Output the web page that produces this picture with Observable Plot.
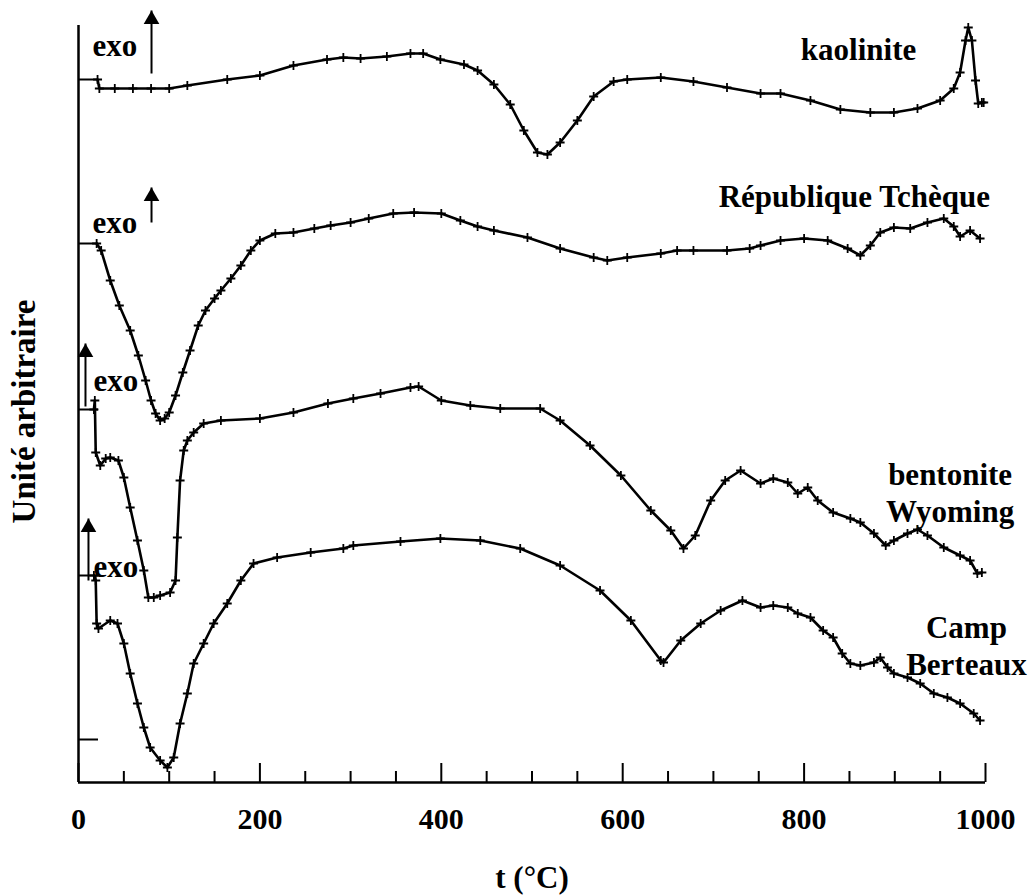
<!DOCTYPE html>
<html><head><meta charset="utf-8">
<script src="https://cdn.jsdelivr.net/npm/d3@7"></script>
<script src="https://cdn.jsdelivr.net/npm/@observablehq/plot@0.6"></script>
<style>body{margin:0;background:#fff} svg{display:block}</style>
</head><body><div id="chart"></div>
<script>
// Temperatures (°C) and signal (arbitrary units)
const tKaolinite = [21,23,40,60,80,100,120,164,200,237,274,292,311,340,366,380,399,425,440,458,476,491,506,517,531,550,568,590,605,642,678,715,752,774,807,840,873,899,925,950,965,972,978,981,985,989,992,996,998];
const vKaolinite = [703,694,694,694,694,694,697,703,707,717,723,725,724,726,729,729,723,718,712,698,678,652,630,628,640,662,686,701,703,705,701,695,689,689,682,673,670,670,674,682,694,710,742,755,742,702,679,680,680];

const tTcheque = [20,25,35,45,57,66,74,80,85,90,95,100,107,115,123,132,140,150,157,168,179,190,200,217,237,260,278,300,320,347,370,400,421,440,458,495,531,568,583,605,642,660,678,715,740,752,774,800,826,848,862,873,884,899,917,936,954,965,972,983,994];
const vTcheque = [539,532,502,477,452,427,402,382,369,362,364,370,387,410,432,457,472,484,492,504,517,532,542,549,550,554,557,560,564,569,570,569,562,556,552,545,534,525,522,525,529,532,532,532,534,537,542,544,542,534,527,537,550,555,554,560,564,556,546,552,544];

const tBentonite = [17,18,19,24,30,35,44,50,57,65,72,77,83,90,101,107,109,112,116,120,127,138,157,200,237,275,303,333,366,375,400,432,465,509,531,564,598,631,653,667,680,697,713,730,752,766,782,793,804,815,832,851,862,877,890,899,914,925,936,954,972,983,991,996];
const vBentonite = [373,382,330,317,324,325,322,305,275,242,212,185,185,187,190,202,245,302,332,342,350,359,362,364,370,379,384,389,395,396,382,377,374,374,362,337,307,272,252,234,247,282,302,312,299,304,300,289,295,282,270,264,260,249,237,242,249,253,247,235,227,222,209,210];

const tCamp = [17,19,20,22,35,43,50,57,65,72,79,90,98,105,112,120,127,138,149,164,179,193,219,256,292,303,355,399,443,487,531,575,609,642,645,664,686,708,732,752,766,782,793,807,821,832,842,851,862,877,884,892,899,914,928,943,958,972,987,994];
const vCamp = [207,202,159,154,162,159,139,109,79,55,35,22,15,25,59,89,119,139,159,179,202,219,225,230,234,237,241,244,242,234,217,192,162,122,120,142,159,172,182,175,177,175,169,165,152,145,129,119,117,120,125,115,109,105,99,89,85,79,69,62];

const seriesNames = ["kaolinite", "République Tchèque", "bentonite Wyoming", "Camp Berteaux"];
const seriesLabels = ["kaolinite", "République Tchèque", "bentonite\nWyoming", "Camp\nBerteaux"];
const labelT = [860, 1005, 961, 979];
const labelV = [734, 585, 291, 138];
const labelAnchor = ["middle", "end", "middle", "middle"];

const baselines = [703, 539, 373, 207, 43];
const xMajorTicks = [0, 200, 400, 600, 800, 1000];
const xMinorTicks = [50, 100, 150, 250, 300, 350, 450, 500, 550, 650, 700, 750, 850, 900, 950];

const exoT = [15.5, 15.5, 16.5, 16.5];
const exoV = [736, 559, 401, 215];
const arrowT = [80.5, 80.5, 7.7, 11];
const arrowFromV = [709, 560, 376, 202];
const arrowToV = [772, 595, 439, 264];

const xTitle = "t (°C)";
const yTitle = "Unité arbitraire";

const allT = [tKaolinite, tTcheque, tBentonite, tCamp];
const allV = [vKaolinite, vTcheque, vBentonite, vCamp];
const rows = [];
seriesNames.forEach((s, i) => allT[i].forEach((t, j) => rows.push({series: s, t, v: allV[i][j]})));
const labels = seriesLabels.map((text, i) => ({text, t: labelT[i], v: labelV[i], anchor: labelAnchor[i]}));
const exos = exoT.map((t, i) => ({t, v: exoV[i]}));
const arrows = arrowT.map((t, i) => ({t, v1: arrowFromV[i], v2: arrowToV[i]}));

const font = "'Liberation Serif', 'Times New Roman', serif";
const chart = Plot.plot({
  width: 1032, height: 895,
  marginLeft: 78, marginRight: 47, marginTop: 25, marginBottom: 113,
  style: {fontFamily: font, fontWeight: "bold", color: "#000", background: "#fff", overflow: "visible"},
  x: {domain: [0, 1000]},
  y: {domain: [0, 757]},
  marks: [
    Plot.axisX({ticks: xMinorTicks, tickSize: -11, tickFormat: () => "", strokeWidth: 2, label: null}),
    Plot.axisX({ticks: xMajorTicks, tickSize: -19, tickPadding: 44, tickFormat: d => String(d), fontSize: 30, strokeWidth: 2, label: null}),
    Plot.axisY({ticks: baselines, tickSize: -20, tickFormat: () => "", strokeWidth: 2, label: null}),
    Plot.ruleX([0], {strokeWidth: 2.5}),
    Plot.ruleY([0], {strokeWidth: 2.5}),
    Plot.line(rows, {x: "t", y: "v", z: "series", stroke: "#000", strokeWidth: 2.6}),
    Plot.dot(rows, {x: "t", y: "v", symbol: "plus", r: 3, stroke: "#000", strokeWidth: 1.8}),
    Plot.text(labels.filter(d => d.anchor === "middle"), {x: "t", y: "v", text: "text", textAnchor: "middle", fontSize: 31, lineHeight: 1.2}),
    Plot.text(labels.filter(d => d.anchor === "end"), {x: "t", y: "v", text: "text", textAnchor: "end", fontSize: 31}),
    Plot.text(exos, {x: "t", y: "v", text: () => "exo", textAnchor: "start", fontSize: 31}),
    Plot.link(arrows, {x1: "t", y1: "v1", x2: "t", y2: "v2", strokeWidth: 2}),
    Plot.dot(arrows, {x: "t", y: "v2", symbol: "triangle", r: 5.8, fill: "#000", stroke: "none", dy: 9}),
    Plot.text([xTitle], {frameAnchor: "bottom", textAnchor: "middle", lineAnchor: "middle", dy: 96, text: d => d, fontSize: 31}),
    Plot.text([yTitle], {frameAnchor: "left", textAnchor: "middle", lineAnchor: "middle", dx: -54, dy: 7.5, rotate: -90, text: d => d, fontSize: 33})
  ]
});
document.getElementById("chart").appendChild(chart);
</script>
</body></html>
